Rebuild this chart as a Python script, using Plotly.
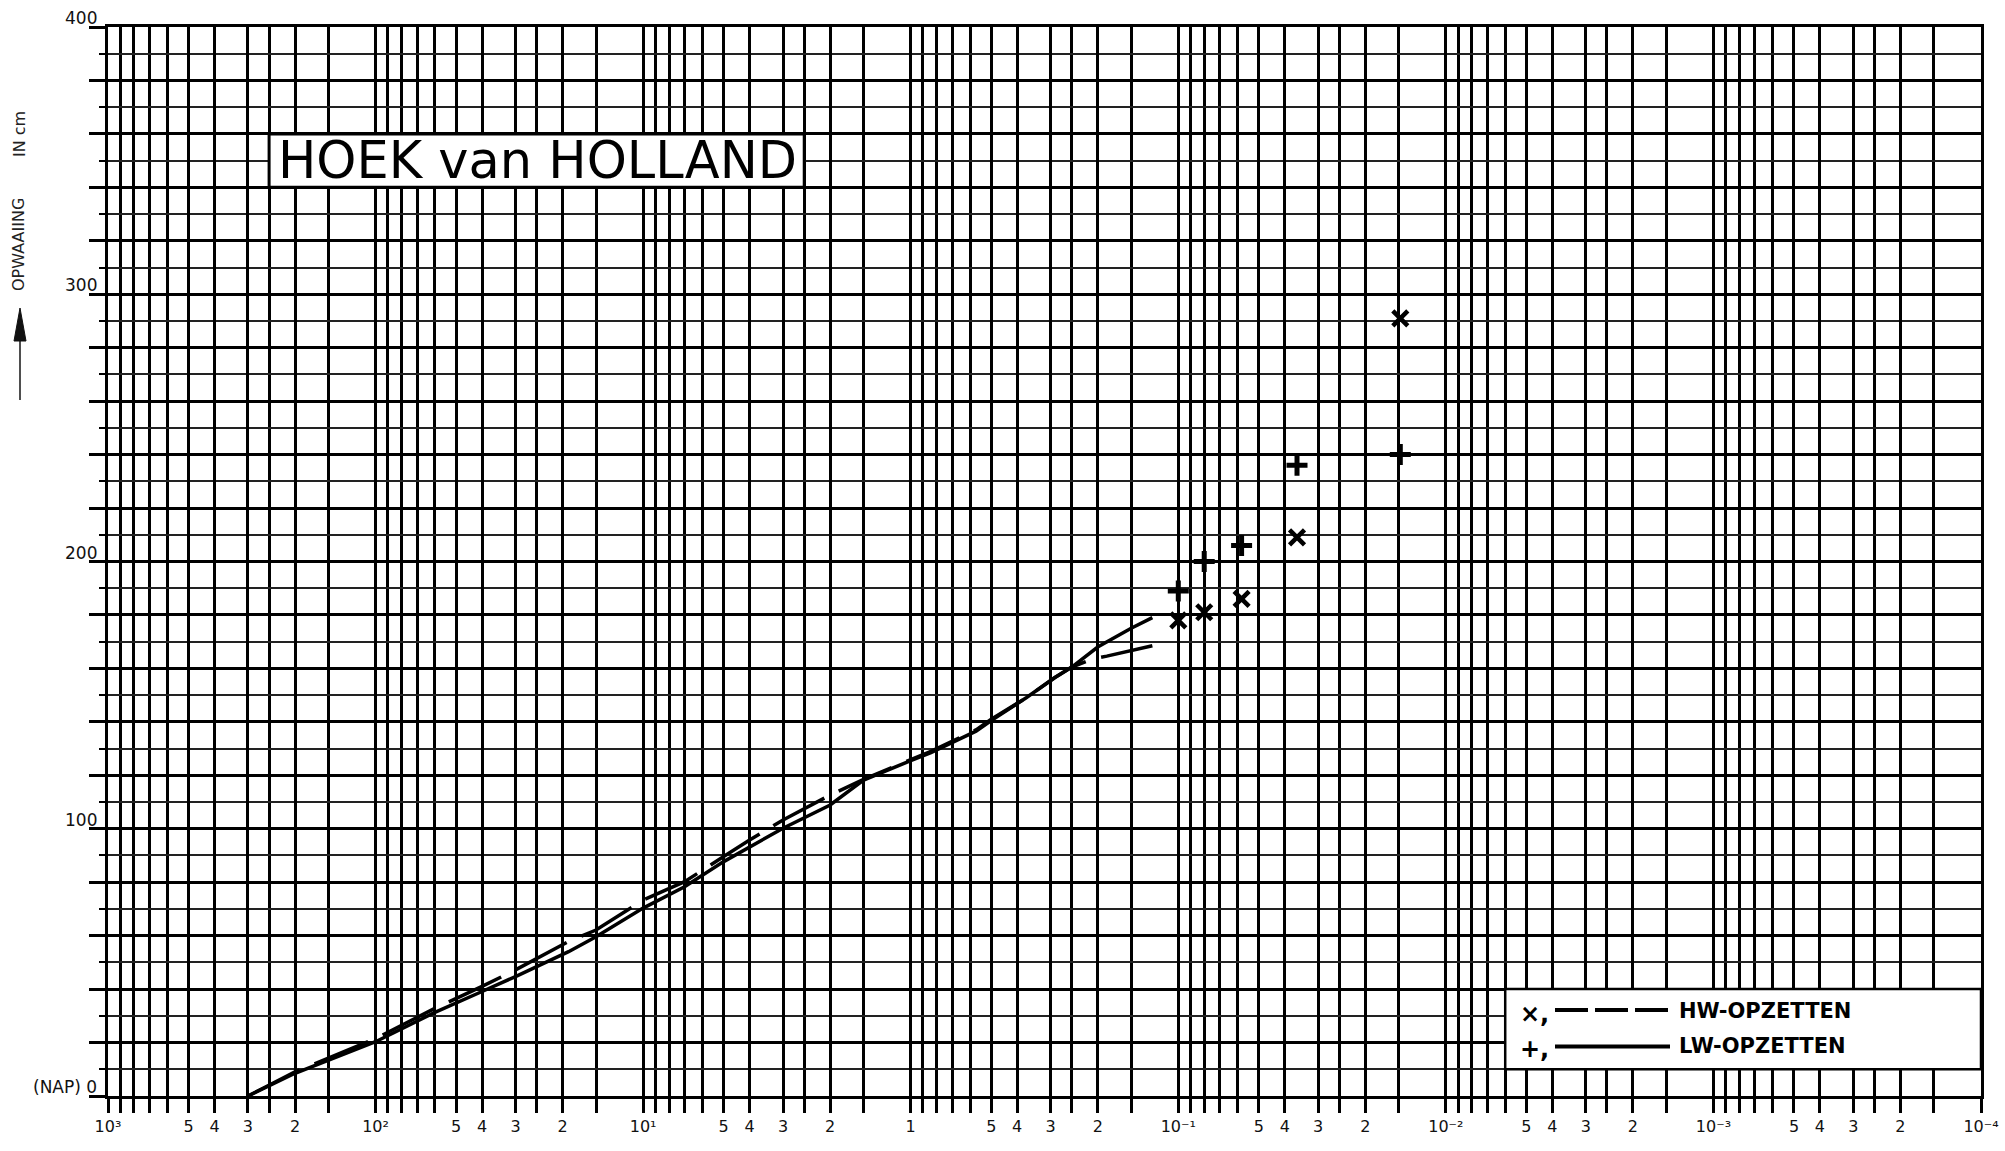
import math
import plotly.graph_objects as go

# ---------------- data ----------------
# HW-OPZETTEN (dashed curve) : frequency (per year) vs set-up (cm)
hw_curve_x = [300, 200, 100, 60, 40, 30, 19, 15, 10, 7, 5, 4, 3, 2, 1.5, 1, 0.84, 0.57, 0.5, 0.37, 0.29, 0.25, 0.21, 0.185, 0.125]
hw_curve_y = [0, 9, 21.5, 32.8, 41, 47.2, 57.8, 62.1, 73.3, 80.2, 89.6, 95.8, 103.3, 112.6, 118.5, 126, 129, 137, 141, 149, 156.5, 160.5, 163.5, 164.6, 168.5]
# LW-OPZETTEN (solid curve)
lw_curve_x = [300, 200, 100, 60, 40, 30, 19, 15, 10, 7, 5, 4, 3, 2, 1.5, 1, 0.84, 0.57, 0.5, 0.37, 0.29, 0.25, 0.2, 0.15, 0.125]
lw_curve_y = [0, 8.5, 20.3, 31.3, 39.1, 44.7, 54.0, 59.6, 70.3, 78.3, 87.7, 93.3, 100.2, 108.9, 118.2, 125.5, 128.5, 136.5, 140.5, 149, 156.5, 160.5, 168, 175, 179]
# observed points
hw_points_x = [0.1, 0.08, 0.058, 0.036, 0.0148]
hw_points_y = [178, 181, 186, 209, 291]
lw_points_x = [0.1, 0.08, 0.058, 0.036, 0.0148]
lw_points_y = [189, 200, 206, 236, 240]

# axis grid / tick labels
x_decades = [-4, -3, -2, -1, 0, 1, 2]
x_labelled_mantissas = {1: None, 2: "2", 3: "3", 4: "4", 5: "5"}
x_unlabelled_mantissas = [1.5, 2.5, 6, 7, 8, 9]
x_decade_labels = {3: "10³", 2: "10²", 1: "10¹", 0: "1",
                   -1: "10⁻¹", -2: "10⁻²", -3: "10⁻³", -4: "10⁻⁴"}
y_major = list(range(0, 401, 20))
y_minor = list(range(10, 400, 20))
y_labels = {0: "(NAP) 0", 100: "100", 200: "200", 300: "300", 400: "400"}

title_text = "HOEK van HOLLAND"
legend_hw = "HW-OPZETTEN"
legend_lw = "LW-OPZETTEN"

# ---------------- layout geometry ----------------
W, H = 2005, 1151
ML, MR, MT, MB = 108, 24, 27, 55
PW, PH = W - ML - MR, H - MT - MB
FONT = "DejaVu Sans"


def xp(v):  # data value -> paper x
    return (3 - math.log10(v)) / 7


def pxx(px):  # pixel x -> paper x
    return (px - ML) / PW


def pxy(py):  # pixel y -> paper y
    return (H - MB - py) / PH


x_tickvals, x_ticktext, x_minorvals = [], [], []
for d in x_decades:
    for m, lab in x_labelled_mantissas.items():
        x_tickvals.append(m * 10 ** d)
        x_ticktext.append(x_decade_labels[d] if m == 1 else lab)
    for m in x_unlabelled_mantissas:
        x_minorvals.append(m * 10 ** d)
x_tickvals.append(10 ** 3)
x_ticktext.append(x_decade_labels[3])

fig = go.Figure()
fig.add_trace(go.Scatter(x=lw_curve_x, y=lw_curve_y, mode="lines",
                         line=dict(color="black", width=3.5), showlegend=False))
fig.add_trace(go.Scatter(x=hw_curve_x, y=hw_curve_y, mode="lines",
                         line=dict(color="black", width=3.5, dash="58px,16px"), showlegend=False))
fig.add_trace(go.Scatter(x=hw_points_x, y=hw_points_y, mode="markers",
                         marker=dict(symbol="x-thin", size=15, color="black",
                                     line=dict(width=4.5, color="black")), showlegend=False))
fig.add_trace(go.Scatter(x=lw_points_x, y=lw_points_y, mode="markers",
                         marker=dict(symbol="cross-thin", size=15, color="black",
                                     line=dict(width=5, color="black")), showlegend=False))

shapes = []
# title box
shapes.append(dict(type="rect", xref="paper", yref="paper", x0=xp(250), x1=xp(2.5),
                   y0=340 / 400, y1=360 / 400, fillcolor="white",
                   line=dict(color="black", width=3), layer="above"))
# legend box
shapes.append(dict(type="rect", xref="paper", yref="paper", x0=xp(0.006), x1=1,
                   y0=10 / 400, y1=40 / 400, fillcolor="white",
                   line=dict(color="black", width=2.5), layer="above"))
# legend sample lines
shapes.append(dict(type="line", xref="paper", yref="paper", x0=pxx(1555), x1=pxx(1668),
                   y0=pxy(1010), y1=pxy(1010), line=dict(color="black", width=4, dash="33px,7px"),
                   layer="above"))
shapes.append(dict(type="line", xref="paper", yref="paper", x0=pxx(1555), x1=pxx(1670),
                   y0=pxy(1046.5), y1=pxy(1046.5), line=dict(color="black", width=4),
                   layer="above"))
# y-axis arrow
shapes.append(dict(type="line", xref="paper", yref="paper", x0=pxx(20), x1=pxx(20),
                   y0=pxy(400), y1=pxy(335), line=dict(color="#222", width=1.6), layer="above"))
shapes.append(dict(type="path", xref="paper", yref="paper",
                   path=f"M {pxx(20)} {pxy(308)} L {pxx(14)} {pxy(341)} L {pxx(26)} {pxy(341)} Z",
                   fillcolor="#111", line=dict(color="#111", width=1), layer="above"))

annotations = []
for v, t in y_labels.items():
    annotations.append(dict(text=t, xref="paper", yref="y", x=pxx(99), y=v,
                            xanchor="right", yanchor="bottom", yshift=-3, showarrow=False,
                            font=dict(family=FONT, size=17, color="#111")))
annotations.append(dict(text=title_text, xref="paper", yref="paper", x=pxx(537), y=pxy(160),
                        xanchor="center", yanchor="middle", showarrow=False,
                        font=dict(family=FONT, size=51, color="black")))
annotations.append(dict(text="OPWAAIING", xref="paper", yref="paper", x=pxx(19), y=pxy(245),
                        xanchor="center", yanchor="middle", textangle=-90, showarrow=False,
                        font=dict(family=FONT, size=16, color="#222")))
annotations.append(dict(text="IN cm", xref="paper", yref="paper", x=pxx(19), y=pxy(134),
                        xanchor="center", yanchor="middle", textangle=-90, showarrow=False,
                        font=dict(family=FONT, size=16, color="#222")))
for sym, lab, py in [("×,", legend_hw, 1010.5), ("+,", legend_lw, 1046)]:
    annotations.append(dict(text=sym, xref="paper", yref="paper", x=pxx(1518), y=pxy(py + 3),
                            xanchor="left", yanchor="middle", showarrow=False,
                            font=dict(family="DejaVu Sans", size=24, color="black", weight="bold")))
    annotations.append(dict(text=lab, xref="paper", yref="paper", x=pxx(1677), y=pxy(py),
                            xanchor="left", yanchor="middle", showarrow=False,
                            font=dict(family="DejaVu Sans", size=21, color="black", weight="bold")))

fig.update_layout(
    width=W, height=H,
    margin=dict(l=ML, r=MR, t=MT, b=MB, pad=0),
    paper_bgcolor="white", plot_bgcolor="white",
    shapes=shapes, annotations=annotations,
    xaxis=dict(type="log", range=[3, -4], tickmode="array", tickvals=x_tickvals,
               ticktext=x_ticktext, showgrid=True, gridcolor="black", gridwidth=2.5,
               ticks="outside", ticklen=14, tickwidth=2.5, tickcolor="black",
               minor=dict(tickmode="array", tickvals=x_minorvals, showgrid=True,
                          gridcolor="black", gridwidth=2.5, ticks="outside", ticklen=14,
                          tickwidth=2.5, tickcolor="black"),
               showline=True, linecolor="black", linewidth=3, mirror=True,
               zeroline=False, automargin=False, tickangle=0,
               tickfont=dict(family=FONT, size=16, color="#111")),
    yaxis=dict(range=[0, 400], tickmode="array", tickvals=y_major, showticklabels=False,
               showgrid=True, gridcolor="black", gridwidth=3,
               ticks="outside", ticklen=16, tickwidth=3, tickcolor="black",
               minor=dict(tickmode="array", tickvals=y_minor, showgrid=True, gridcolor="#222",
                          gridwidth=2, ticks="outside", ticklen=6, tickwidth=2, tickcolor="black"),
               showline=True, linecolor="black", linewidth=3, mirror=True,
               zeroline=False, automargin=False),
)

fig.write_html("out.html")
